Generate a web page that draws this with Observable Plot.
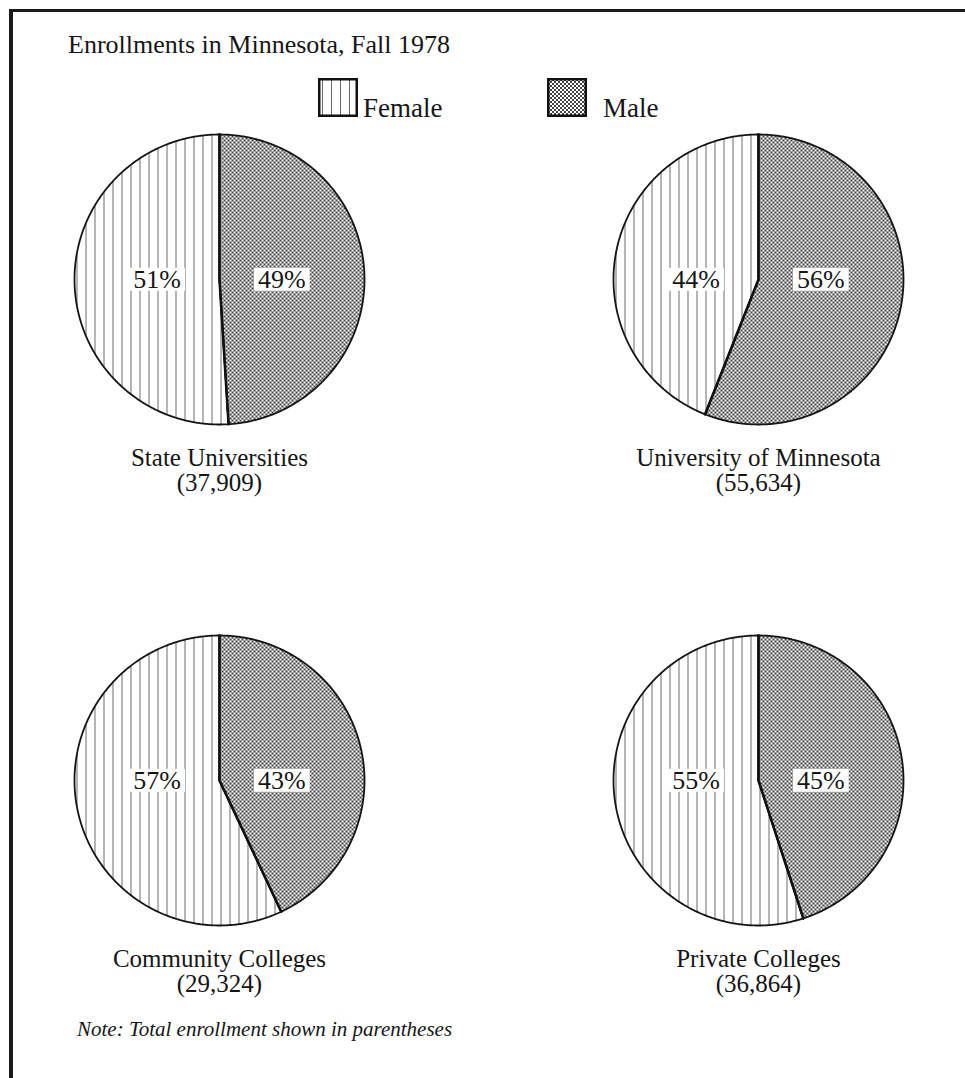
<!DOCTYPE html>
<html><head><meta charset="utf-8">
<script src="https://cdn.jsdelivr.net/npm/d3@7"></script>
<script src="https://cdn.jsdelivr.net/npm/@observablehq/plot@0.6"></script>
<style>
html,body{margin:0;padding:0;background:#fff;}
#page{position:relative;width:965px;height:1078px;overflow:hidden;font-family:"Liberation Serif",serif;color:#161616;}
#frame{position:absolute;left:9px;top:9px;width:980px;height:1100px;border-left:4px solid #1a1a1a;border-top:3px solid #1a1a1a;}
#title{position:absolute;left:68px;top:32px;font-size:26px;line-height:26px;white-space:nowrap;}
.sw{position:absolute;top:78px;}
.legtext{position:absolute;top:95px;font-size:27px;line-height:27px;white-space:nowrap;}
#chart{position:absolute;left:0;top:120px;}
#note{position:absolute;left:77px;top:1019px;font-size:21px;line-height:21px;font-style:italic;white-space:nowrap;}
</style></head>
<body>
<svg width="0" height="0" style="position:absolute">
  <defs>
    <pattern id="fpat" width="9" height="9" patternUnits="userSpaceOnUse">
      <rect width="9" height="9" fill="#fff"/>
      <line x1="4.5" y1="0" x2="4.5" y2="9" stroke="#6a6a6a" stroke-width="1"/>
    </pattern>
    <pattern id="mpat" width="4" height="4" patternUnits="userSpaceOnUse">
      <rect width="4" height="4" fill="#fff"/>
      <path d="M0,0L4,4M4,0L0,4" stroke="#2a2a2a" stroke-width="0.9"/>
    </pattern>
  </defs>
</svg>
<div id="page">
  <div id="frame"></div>
  <div id="title">Enrollments in Minnesota, Fall 1978</div>
  <svg class="sw" style="left:318px" width="40" height="39"><rect x="1.25" y="1.25" width="37.5" height="36.5" fill="url(#fpat)" stroke="#111" stroke-width="2.5"/></svg>
  <div class="legtext" style="left:363px">Female</div>
  <svg class="sw" style="left:547px" width="40" height="39"><rect x="1.25" y="1.25" width="37.5" height="36.5" fill="url(#mpat)" stroke="#111" stroke-width="2.5"/></svg>
  <div class="legtext" style="left:603px">Male</div>
  <div id="chart"></div>
  <div id="note">Note: Total enrollment shown in parentheses</div>
</div>
<script>
// ---- data ----
const institutions = ["State Universities", "University of Minnesota", "Community Colleges", "Private Colleges"];
const totals = [37909, 55634, 29324, 36864];
const femalePct = [51, 44, 57, 55];
const malePct = [49, 56, 43, 45];
const gridCol = ["left", "right", "left", "right"];
const gridRow = ["top", "top", "bottom", "bottom"];

// ---- layout (pixels) ----
const W = 965, svgTop = 120;
const unit = 145;                 // pixels per unit radius
const xDom = [-1.4, 1.4], yDom = [-1.55, 1.05];
const colCenters = [219, 758], rowCenters = [279 - svgTop, 780 - svgTop];
const bwX = (xDom[1] - xDom[0]) * unit, stepX = colCenters[1] - colCenters[0];
const bhY = (yDom[1] - yDom[0]) * unit, stepY = rowCenters[1] - rowCenters[0];
const mL = colCenters[0] - bwX / 2, mR = W - mL - (stepX + bwX);
const mT = rowCenters[0] - yDom[1] * unit, mB = 4;
const H = mT + stepY + bhY + mB;

// ---- wedge geometry from the percentages ----
function wedge(i, a0, a1, sex) {
  const pts = [{key: i + sex, col: gridCol[i], row: gridRow[i], x: 0, y: 0}];
  const n = Math.max(2, Math.ceil((a1 - a0) / (Math.PI / 360)));
  for (let k = 0; k <= n; ++k) {
    const a = a0 + (a1 - a0) * k / n;
    pts.push({key: i + sex, col: gridCol[i], row: gridRow[i], x: Math.sin(a), y: Math.cos(a)});
  }
  pts.push({key: i + sex, col: gridCol[i], row: gridRow[i], x: 0, y: 0});
  return pts;
}
const maleWedges = [], femaleWedges = [], radii = [];
institutions.forEach((name, i) => {
  const aM = malePct[i] / (malePct[i] + femalePct[i]) * 2 * Math.PI;
  maleWedges.push(...wedge(i, 0, aM, "m"));
  femaleWedges.push(...wedge(i, aM, 2 * Math.PI, "f"));
  radii.push({key: i, col: gridCol[i], row: gridRow[i], x: 0, y: 1},
             {key: i, col: gridCol[i], row: gridRow[i], x: 0, y: 0},
             {key: i, col: gridCol[i], row: gridRow[i], x: Math.sin(aM), y: Math.cos(aM)});
});
const pies = institutions.map((name, i) => ({
  label: name + "\n(" + d3.format(",")(totals[i]) + ")",
  col: gridCol[i], row: gridRow[i]
}));
const pctLabels = institutions.flatMap((name, i) => [
  {col: gridCol[i], row: gridRow[i], side: -1, text: femalePct[i] + "%"},
  {col: gridCol[i], row: gridRow[i], side: 1, text: malePct[i] + "%"}
]);

const plot = Plot.plot({
  width: W, height: H,
  marginLeft: mL, marginRight: mR, marginTop: mT, marginBottom: mB,
  fx: {domain: ["left", "right"], paddingInner: 1 - bwX / stepX, paddingOuter: 0, round: false, axis: null},
  fy: {domain: ["top", "bottom"], paddingInner: 1 - bhY / stepY, paddingOuter: 0, round: false, axis: null},
  x: {domain: xDom, axis: null},
  y: {domain: yDom, axis: null},
  style: {fontFamily: "Liberation Serif", fontSize: "26px", background: "transparent", overflow: "visible"},
  marks: [
    Plot.line(femaleWedges, {x: "x", y: "y", z: "key", fx: "col", fy: "row", fill: "url(#fpat)", stroke: "#151515", strokeWidth: 1.8, strokeLinejoin: "round"}),
    Plot.line(maleWedges, {x: "x", y: "y", z: "key", fx: "col", fy: "row", fill: "url(#mpat)", stroke: "#151515", strokeWidth: 1.8, strokeLinejoin: "round"}),
    Plot.line(radii, {x: "x", y: "y", z: "key", fx: "col", fy: "row", stroke: "#111", strokeWidth: 2.6, strokeLinejoin: "round"}),
    Plot.text(pctLabels, {x: d => d.side * 0.43, y: () => 0, fx: "col", fy: "row", text: "text", fill: "#151515", fontSize: 26}),
    Plot.text(pies, {x: () => 0, y: () => -1.462, fx: "col", fy: "row", text: "label", lineAnchor: "bottom", lineHeight: 1.0, fill: "#151515", fontSize: 25})
  ]
});
document.getElementById("chart").append(plot);

// white boxes behind percentage labels
plot.querySelectorAll("text").forEach(t => {
  if (!/%$/.test(t.textContent)) return;
  const b = t.getBBox();
  const r = document.createElementNS("http://www.w3.org/2000/svg", "rect");
  r.setAttribute("x", b.x - 4);
  r.setAttribute("y", b.y + 3);
  r.setAttribute("width", b.width + 8);
  r.setAttribute("height", b.height - 6);
  r.setAttribute("fill", "#fff");
  const tr = t.getAttribute("transform");
  if (tr) r.setAttribute("transform", tr);
  t.parentNode.insertBefore(r, t);
});
</script>
</body></html>
